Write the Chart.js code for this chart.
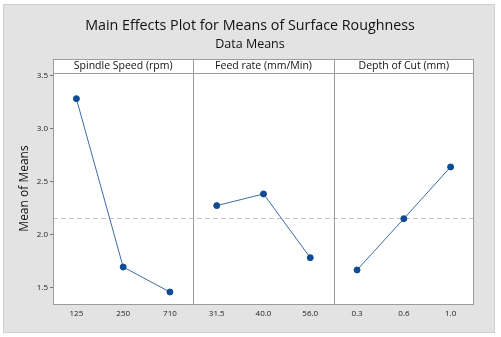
<!DOCTYPE html>
<html>
<head>
<meta charset="utf-8">
<script src="https://cdn.jsdelivr.net/npm/chart.js@4"></script>
<style>
  html, body { margin: 0; padding: 0; background: #fff; }
  canvas { display: block; }
</style>
</head>
<body>
<canvas id="mainEffects" width="501" height="337"></canvas>
<script>
// Data
const factors = ['Spindle Speed (rpm)', 'Feed rate (mm/Min)', 'Depth of Cut (mm)'];
const spindleLevels = ['125', '250', '710'];
const feedLevels = ['31.5', '40.0', '56.0'];
const depthLevels = ['0.3', '0.6', '1.0'];
const spindleMeans = [3.283, 1.695, 1.459];
const feedMeans = [2.274, 2.384, 1.783];
const depthMeans = [1.667, 2.151, 2.639];
const grandMean = 2.155;
const yTicks = [1.5, 2.0, 2.5, 3.0, 3.5];

const FONT = "'Open Sans', sans-serif";
const labels = spindleLevels.concat(feedLevels, depthLevels);
const pad = (vals, before, after) => Array(before).fill(null).concat(vals, Array(after).fill(null));

const lineStyle = {
    borderColor: '#3b6ea5',
    borderWidth: 1,
    pointBackgroundColor: '#0f4c92',
    pointBorderColor: '#0f4c92',
    pointRadius: 3,
    spanGaps: false
};

// background, frame, header strip, dividers, reference line, titles
const panelPlugin = {
    id: 'panelPlugin',
    beforeDraw(chart) {
        const ctx = chart.ctx;
        const area = chart.chartArea;
        const x = chart.scales.x, y = chart.scales.y;
        ctx.save();
        ctx.fillStyle = '#ffffff';
        ctx.fillRect(0, 0, chart.width, chart.height);
        ctx.fillStyle = '#e3e3e3';
        ctx.fillRect(3, 4, 492, 329);
        ctx.strokeStyle = '#d0d0d0';
        ctx.strokeRect(3.5, 4.5, 491, 328);

        const headTop = area.top - 14;
        ctx.fillStyle = '#ffffff';
        ctx.fillRect(area.left, headTop, area.right - area.left, area.bottom - headTop);

        // grand mean reference line
        const gy = Math.round(y.getPixelForValue(grandMean)) + 0.5;
        ctx.strokeStyle = '#c4c4c4';
        ctx.setLineDash([5, 3]);
        ctx.beginPath();
        ctx.moveTo(area.left, gy);
        ctx.lineTo(area.right, gy);
        ctx.stroke();
        ctx.setLineDash([]);

        // frame + header line + panel dividers
        ctx.strokeStyle = '#9c9c9c';
        ctx.lineWidth = 1;
        ctx.strokeRect(area.left + 0.5, headTop + 0.5, area.right - area.left - 1, area.bottom - headTop);
        ctx.beginPath();
        ctx.moveTo(area.left, area.top + 0.5);
        ctx.lineTo(area.right, area.top + 0.5);
        [3, 6].forEach(i => {
            const dx = Math.round((x.getPixelForTick(i - 1) + x.getPixelForTick(i)) / 2) + 0.5;
            ctx.moveTo(dx, headTop);
            ctx.lineTo(dx, area.bottom);
        });
        ctx.stroke();

        // panel titles
        ctx.fillStyle = '#111';
        ctx.font = '10.5px ' + FONT;
        ctx.textAlign = 'center';
        ctx.textBaseline = 'middle';
        factors.forEach((f, k) => {
            ctx.fillText(f, x.getPixelForTick(k * 3 + 1), headTop + 7.5);
        });

        // main title + subtitle
        ctx.font = '14.3px ' + FONT;
        ctx.fillText('Main Effects Plot for Means of Surface Roughness', 250, 26);
        ctx.font = '12.5px ' + FONT;
        ctx.fillText('Data Means', 250, 44);
        ctx.restore();
    }
};

new Chart(document.getElementById('mainEffects'), {
    type: 'line',
    data: {
        labels: labels,
        datasets: [
            Object.assign({ label: factors[0], data: pad(spindleMeans, 0, 6) }, lineStyle),
            Object.assign({ label: factors[1], data: pad(feedMeans, 3, 3) }, lineStyle),
            Object.assign({ label: factors[2], data: pad(depthMeans, 6, 0) }, lineStyle)
        ]
    },
    options: {
        responsive: false,
        animation: false,
        layout: { padding: { top: 73, right: 27, left: 0, bottom: 0 } },
        plugins: { legend: { display: false }, tooltip: { enabled: false } },
        scales: {
            x: {
                type: 'category',
                offset: true,
                grid: { display: false, drawTicks: false, tickLength: 0 },
                border: { display: false },
                ticks: { font: { family: FONT, size: 8 }, color: '#222', padding: 5, maxRotation: 0, autoSkip: false },
                afterFit(scale) { scale.height = 33; }
            },
            y: {
                min: 1.346,
                max: 3.525,
                afterBuildTicks(scale) { scale.ticks = yTicks.map(v => ({ value: v })); },
                ticks: {
                    font: { family: FONT, size: 8 },
                    color: '#222',
                    padding: 2,
                    callback: v => v.toFixed(1)
                },
                grid: { drawOnChartArea: false, tickLength: 3, color: '#777' },
                border: { display: false },
                title: {
                    display: true,
                    text: 'Mean of Means',
                    font: { family: FONT, size: 12 },
                    color: '#111',
                    padding: { top: 17, bottom: 0 }
                },
                afterFit(scale) { scale.width = 53; }
            }
        }
    },
    plugins: [panelPlugin]
});
</script>
</body>
</html>
